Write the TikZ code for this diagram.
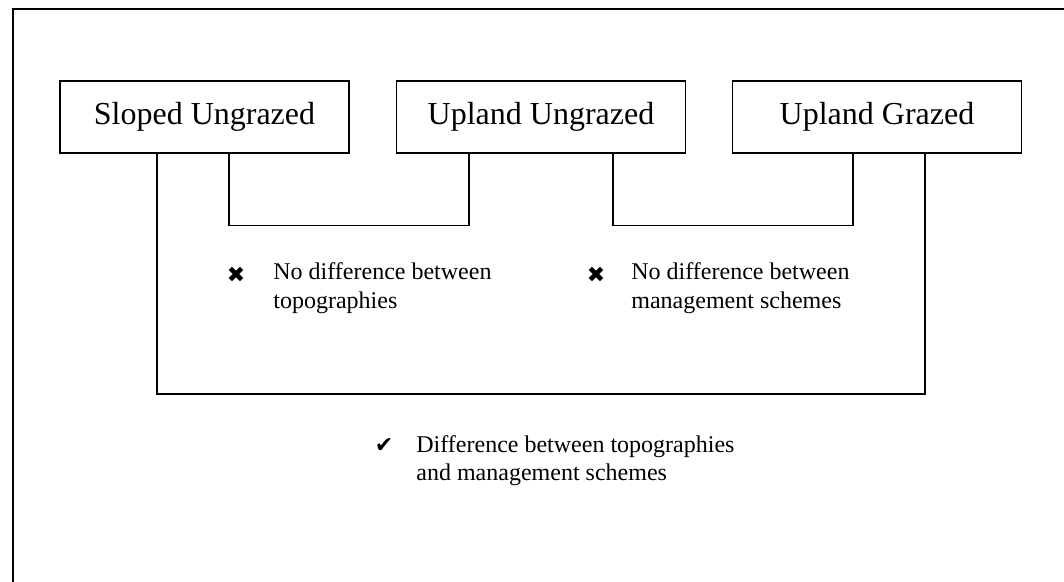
\documentclass[tikz,border=0pt]{standalone}
\usepackage{fontspec}
\setmainfont{Liberation Serif}
\newfontfamily\symfont{DejaVu Sans}

\begin{document}
\begin{tikzpicture}[x=0.5pt, y=-0.5pt,
        site/.style={draw, line width=0.9pt, minimum width=144.5pt, minimum height=36pt, inner sep=0pt, font=\fontsize{16}{19}\selectfont},
        link/.style={line width=0.6pt},
        note/.style={anchor=base west, inner sep=0pt, align=left, font=\fontsize{12}{14}\selectfont},
        sign/.style={inner sep=0pt, font=\symfont\fontsize{11}{11}\selectfont}]
        \useasboundingbox (0,0) rectangle (1064,582);
        \draw[line width=1pt] (13,582) -- (13,9) -- (1064,9);
        \foreach \name/\x/\txt in {slopedU/204.5/Sloped Ungrazed, uplandU/541/Upland Ungrazed, uplandG/877/Upland Grazed} {
                \node[site] (\name) at (\x,117) {\txt};
            }
        \draw[link] ([xshift=12.25pt]slopedU.south) -- ++(0,72) -| ([xshift=-36pt]uplandU.south);
        \draw[link] ([xshift=36pt]uplandU.south) -- ++(0,72) -| ([xshift=-12pt]uplandG.south);
        \draw[link] ([xshift=-23.75pt]slopedU.south) -- ++(0,240) -| ([xshift=24pt]uplandG.south);
        \node[sign] (noTopo) at (236,275) {✖};
        \node[note] (noTopoText) at (273,308) {No difference between\\topographies};
        \node[sign] (noMgmt) at (596,275) {✖};
        \node[note] (noMgmtText) at (631,308) {No difference between\\management schemes};
        \node[sign] (both) at (384,446) {✔};
        \node[note] (bothText) at (416,480) {Difference between topographies\\and management schemes};
    \end{tikzpicture}
\end{document}
